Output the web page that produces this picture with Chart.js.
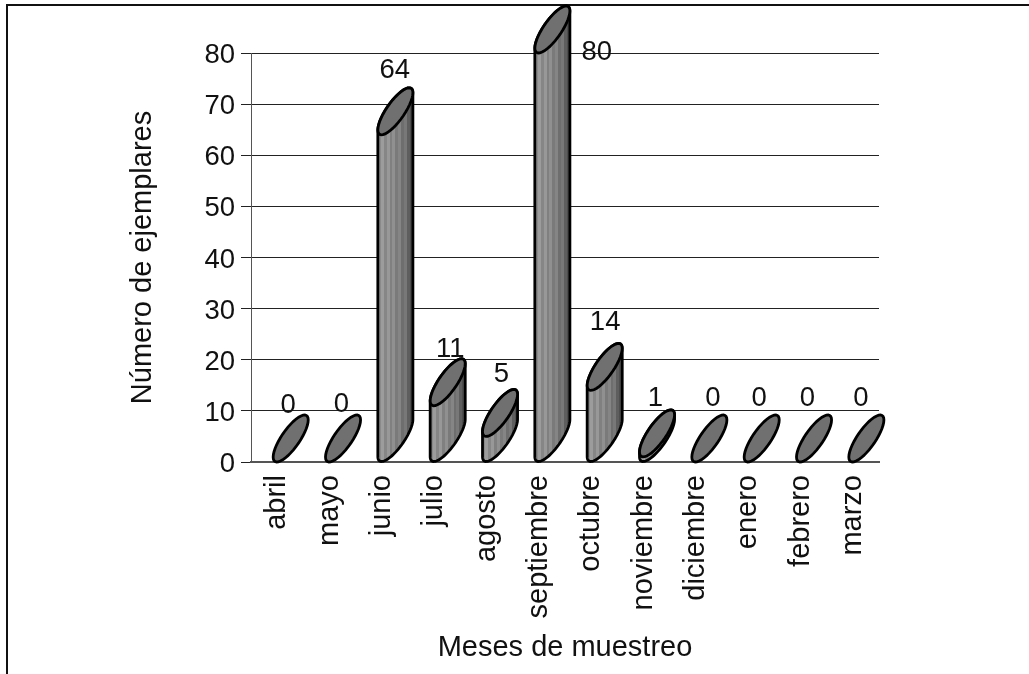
<!DOCTYPE html>
<html>
<head>
<meta charset="utf-8">
<script src="https://cdn.jsdelivr.net/npm/chart.js@4"></script>
<style>
  html, body { margin: 0; padding: 0; background: #fff; }
  #wrap { position: relative; width: 1029px; height: 674px; }
</style>
</head>
<body>
<div id="wrap"><canvas id="chart"></canvas></div>
<script>
const months = ['abril', 'mayo', 'junio', 'julio', 'agosto', 'septiembre', 'octubre', 'noviembre', 'diciembre', 'enero', 'febrero', 'marzo'];
const counts = [0, 0, 64, 11, 5, 80, 14, 1, 0, 0, 0, 0];

// where the original put each number, relative to the top of its bar
const labelDx = [11, 12, 13, 16, 15, 58, 14, 12, 17, 11, 7, 8];
const labelDy = [-57, -58, -64, -56, -62, -1, -68, -58, -64, -64, -64, -64];

const font = 'Liberation Sans';
const numberSize = 27.5;
const textSize = 29;
const ink = '#111';

// vertical stripes on the tube, left to right
const stripes = ['#8a8a8a', '#9c9c9c', '#868686', '#989898', '#808080', '#909090', '#7a7a7a', '#858585', '#6e6e6e', '#787878', '#5e5e5e', '#4e4e4e'];

const SHIFT = 4;    // the tube starts a little left of the category centre
const RY = 23.5;    // half height of the slanted end
const TILT = 0.66;  // how thin the slanted end looks

function ringPoint(cx, cy, rx, t) {
  return [cx + rx * Math.cos(t), cy - RY * Math.cos(t - TILT)];
}

function traceRing(ctx, cx, cy, rx, from, to, moveFirst) {
  const steps = 40;
  for (let i = 0; i <= steps; i++) {
    const p = ringPoint(cx, cy, rx, from + (to - from) * i / steps);
    if (i === 0 && moveFirst) ctx.moveTo(p[0], p[1]);
    else ctx.lineTo(p[0], p[1]);
  }
}

const tubePlugin = {
  id: 'tubes',
  beforeDraw(chart) {
    const { ctx, width, height } = chart;
    ctx.save();
    ctx.fillStyle = '#fff';
    ctx.fillRect(0, 0, width, height);
    // frame, only top and left survive in the scan
    ctx.strokeStyle = '#111';
    ctx.lineWidth = 2;
    ctx.beginPath();
    ctx.moveTo(7, height);
    ctx.lineTo(7, 5);
    ctx.lineTo(width, 5);
    ctx.stroke();
    ctx.restore();
  },
  afterDatasetsDraw(chart) {
    const { ctx } = chart;
    const bars = chart.getDatasetMeta(0).data;
    ctx.save();
    bars.forEach((el, i) => {
      const rx = el.width / 2;
      const x0 = el.x - SHIFT;
      const cx = x0 + rx;
      const topY = el.y - RY;
      const baseY = el.base - RY;

      ctx.lineWidth = 2.8;
      ctx.strokeStyle = '#000';

      if (counts[i] > 0) {
        const grad = ctx.createLinearGradient(x0, 0, x0 + el.width, 0);
        stripes.forEach((c, s) => {
          grad.addColorStop(s / stripes.length, c);
          grad.addColorStop((s + 1) / stripes.length, c);
        });
        ctx.beginPath();
        traceRing(ctx, cx, baseY, rx, Math.PI, Math.PI * 2, true);
        traceRing(ctx, cx, topY, rx, 0, Math.PI, false);
        ctx.closePath();
        ctx.fillStyle = grad;
        ctx.fill();
        ctx.stroke();
      }

      ctx.beginPath();
      traceRing(ctx, cx, topY, rx, 0, Math.PI * 2, true);
      ctx.closePath();
      ctx.fillStyle = '#707070';
      ctx.fill();
      ctx.stroke();

      ctx.fillStyle = ink;
      ctx.font = numberSize + 'px "' + font + '"';
      ctx.textAlign = 'center';
      ctx.textBaseline = 'middle';
      ctx.fillText(String(counts[i]), el.x + labelDx[i], el.y + labelDy[i]);
    });
    ctx.restore();
  },
};

new Chart(document.getElementById('chart'), {
  type: 'bar',
  data: {
    labels: months,
    datasets: [{
      data: counts,
      backgroundColor: 'transparent',
      borderWidth: 0,
      categoryPercentage: 1,
      barPercentage: 0.67,
    }],
  },
  options: {
    responsive: true,
    maintainAspectRatio: false,
    animation: false,
    layout: { padding: { left: 126, right: 150, top: 53, bottom: 0 } },
    plugins: {
      legend: { display: false },
      tooltip: { enabled: false },
    },
    scales: {
      x: {
        afterFit(scale) { scale.height = 212; },
        grid: { drawOnChartArea: false, drawTicks: false },
        border: { color: '#555', width: 2 },
        ticks: {
          color: ink,
          font: { family: font, size: textSize },
          minRotation: 90,
          maxRotation: 90,
          autoSkip: false,
          padding: 13,
        },
        title: {
          display: true,
          text: 'Meses de muestreo',
          color: ink,
          font: { family: font, size: textSize },
          padding: { top: 0, bottom: 9 },
        },
      },
      y: {
        min: 0,
        max: 80,
        afterFit(scale) { scale.width = 125; },
        grid: { color: '#222', lineWidth: 1, tickLength: 10 },
        border: { color: '#555', width: 1 },
        ticks: {
          stepSize: 10,
          color: ink,
          font: { family: font, size: numberSize },
          padding: 6,
          labelOffset: 2.5,
        },
        title: {
          display: true,
          text: 'Número de ejemplares',
          color: ink,
          font: { family: font, size: textSize },
          padding: { top: 0, bottom: 0 },
        },
      },
    },
  },
  plugins: [tubePlugin],
});
</script>
</body>
</html>
